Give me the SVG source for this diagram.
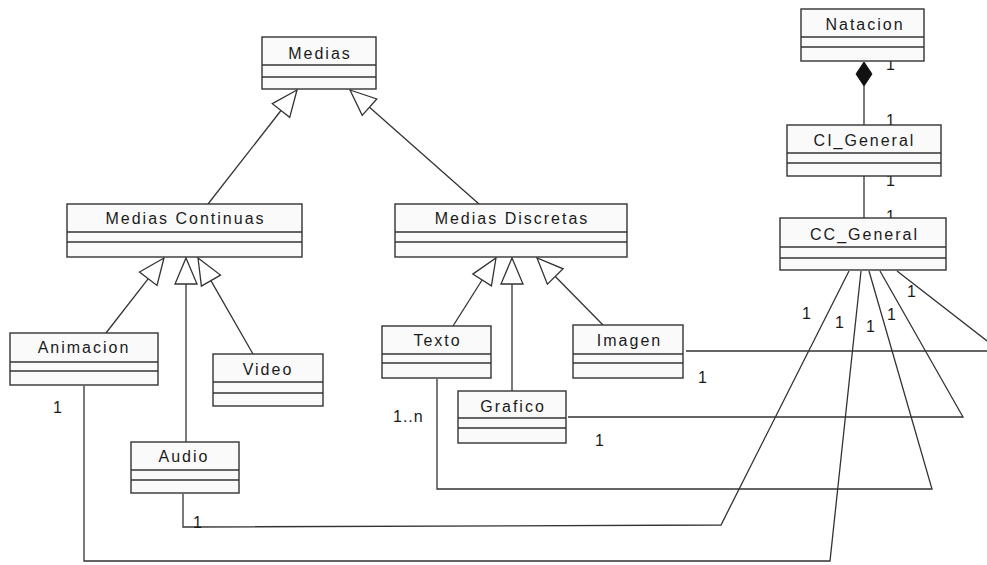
<svg xmlns="http://www.w3.org/2000/svg" width="987" height="565" viewBox="0 0 987 565">
  <style>
    .box { fill: #fafafa; stroke: #333; stroke-width: 1.4; }
    .sep { stroke: #333; stroke-width: 1.4; }
    .name { font-family: "Liberation Sans", Arial, sans-serif; font-size: 16px; letter-spacing: 2px; fill: #1a1a1a; text-anchor: middle; }
    .mult { font-family: "Liberation Sans", Arial, sans-serif; font-size: 16px; letter-spacing: 1px; fill: #1a1a1a; }
    .line { fill: none; stroke: #333; stroke-width: 1.3; }
    .gen { fill: #fff; stroke: #333; stroke-width: 1.3; }
    .comp { fill: #111; stroke: #111; stroke-width: 1; }
  </style>

  <rect width="987" height="565" fill="#fff"/>

  <!-- connectors: generalisations, composition and associations -->
  <g id="connectors">
    <!-- Medias hierarchy -->
    <line class="line" x1="281" y1="110.5" x2="208" y2="204"/>
    <polygon class="gen" points="297,90 289.7,117.3 272.3,103.7"/>
    <line class="line" x1="369.5" y1="107.2" x2="479" y2="204"/>
    <polygon class="gen" points="350,90 362.2,115.4 376.8,99"/>

    <!-- Medias Continuas children -->
    <line class="line" x1="148.3" y1="278.7" x2="106" y2="333"/>
    <polygon class="gen" points="164,258 157,285.4 139.5,272"/>
    <line class="line" x1="186" y1="284" x2="186" y2="442"/>
    <polygon class="gen" points="186,258 197,284 175,284"/>
    <line class="line" x1="210.9" y1="280.6" x2="253" y2="354"/>
    <polygon class="gen" points="198,258 201.4,286.1 220.5,275.1"/>

    <!-- Medias Discretas children -->
    <line class="line" x1="482.1" y1="280" x2="453" y2="326"/>
    <polygon class="gen" points="496,258 491.4,285.9 472.8,274.1"/>
    <line class="line" x1="512" y1="284" x2="512" y2="391"/>
    <polygon class="gen" points="512,258 523,284 501,284"/>
    <line class="line" x1="555.3" y1="276.5" x2="603" y2="325"/>
    <polygon class="gen" points="537,258 547.4,284.2 563.1,268.8"/>

    <!-- Natacion composition -->
    <line class="line" x1="864" y1="86" x2="864" y2="125"/>
    <polygon class="comp" points="864,62 872,74 864,86 856,74"/>
    <line class="line" x1="864" y1="176" x2="864" y2="218"/>

    <!-- CC_General associations -->
    <polyline class="line" points="686,351 1000,351 897,271"/>
    <polyline class="line" points="568,417 963,417 880,271"/>
    <polyline class="line" points="437,379 437,489 932,489 869,271"/>
    <polyline class="line" points="183,494 183,527 721,525 849,271"/>
    <polyline class="line" points="84,386 84,561 830,561 861,271"/>

    <!-- multiplicities -->
    <text class="mult" x="886" y="70">1</text>
    <text class="mult" x="886" y="126">1</text>
    <text class="mult" x="886" y="186">1</text>
    <text class="mult" x="886" y="222">1</text>
    <text class="mult" x="802" y="319">1</text>
    <text class="mult" x="835" y="328">1</text>
    <text class="mult" x="866" y="332">1</text>
    <text class="mult" x="887" y="320">1</text>
    <text class="mult" x="907" y="297">1</text>
    <text class="mult" x="698" y="383">1</text>
    <text class="mult" x="595" y="446">1</text>
    <text class="mult" x="53" y="413">1</text>
    <text class="mult" x="193" y="528">1</text>
    <text class="mult" x="393" y="422">1..n</text>
  </g>

  <g id="medias">
    <rect class="box" x="262" y="37" width="114" height="52"/>
    <line class="sep" x1="262" y1="65" x2="376" y2="65"/>
    <line class="sep" x1="262" y1="77" x2="376" y2="77"/>
    <text class="name" x="320" y="59">Medias</text>
  </g>

  <g id="medias-continuas">
    <rect class="box" x="67" y="204" width="235" height="53"/>
    <line class="sep" x1="67" y1="232" x2="302" y2="232"/>
    <line class="sep" x1="67" y1="242" x2="302" y2="242"/>
    <text class="name" x="185.5" y="224">Medias Continuas</text>
  </g>

  <g id="medias-discretas">
    <rect class="box" x="395" y="204" width="232" height="53"/>
    <line class="sep" x1="395" y1="232" x2="627" y2="232"/>
    <line class="sep" x1="395" y1="242" x2="627" y2="242"/>
    <text class="name" x="512" y="224">Medias Discretas</text>
  </g>

  <g id="animacion">
    <rect class="box" x="10" y="333" width="148" height="52"/>
    <line class="sep" x1="10" y1="362" x2="158" y2="362"/>
    <line class="sep" x1="10" y1="371" x2="158" y2="371"/>
    <text class="name" x="84" y="353">Animacion</text>
  </g>

  <g id="video">
    <rect class="box" x="213" y="354" width="110" height="52"/>
    <line class="sep" x1="213" y1="382" x2="323" y2="382"/>
    <line class="sep" x1="213" y1="393" x2="323" y2="393"/>
    <text class="name" x="268" y="375">Video</text>
  </g>

  <g id="audio">
    <rect class="box" x="131" y="442" width="108" height="51"/>
    <line class="sep" x1="131" y1="470" x2="239" y2="470"/>
    <line class="sep" x1="131" y1="480" x2="239" y2="480"/>
    <text class="name" x="184" y="462">Audio</text>
  </g>

  <g id="texto">
    <rect class="box" x="382" y="326" width="109" height="52"/>
    <line class="sep" x1="382" y1="354" x2="491" y2="354"/>
    <line class="sep" x1="382" y1="363" x2="491" y2="363"/>
    <text class="name" x="437.5" y="346">Texto</text>
  </g>

  <g id="imagen">
    <rect class="box" x="573" y="325" width="110" height="53"/>
    <line class="sep" x1="573" y1="354" x2="683" y2="354"/>
    <line class="sep" x1="573" y1="363" x2="683" y2="363"/>
    <text class="name" x="629.5" y="346">Imagen</text>
  </g>

  <g id="grafico">
    <rect class="box" x="458" y="391" width="108" height="52"/>
    <line class="sep" x1="458" y1="418" x2="566" y2="418"/>
    <line class="sep" x1="458" y1="428" x2="566" y2="428"/>
    <text class="name" x="513" y="411.5">Grafico</text>
  </g>

  <g id="natacion">
    <rect class="box" x="801" y="9" width="123" height="52"/>
    <line class="sep" x1="801" y1="37" x2="924" y2="37"/>
    <line class="sep" x1="801" y1="47" x2="924" y2="47"/>
    <text class="name" x="865" y="30">Natacion</text>
  </g>

  <g id="ci-general">
    <rect class="box" x="787" y="125" width="154" height="51"/>
    <line class="sep" x1="787" y1="153" x2="941" y2="153"/>
    <line class="sep" x1="787" y1="163" x2="941" y2="163"/>
    <text class="name" x="864.5" y="146">CI_General</text>
  </g>

  <g id="cc-general">
    <rect class="box" x="780" y="218" width="166" height="52"/>
    <line class="sep" x1="780" y1="247" x2="946" y2="247"/>
    <line class="sep" x1="780" y1="258" x2="946" y2="258"/>
    <text class="name" x="864.5" y="240">CC_General</text>
  </g>
</svg>
